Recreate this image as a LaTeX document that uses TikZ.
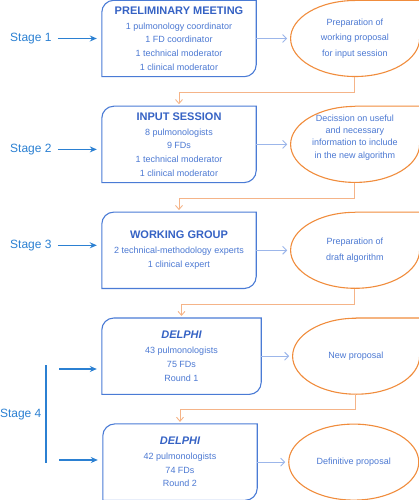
\documentclass[tikz,border=0pt]{standalone}
\usepackage{fontspec}
\setmainfont{Liberation Sans}
\usepackage{xcolor}
\usetikzlibrary{arrows.meta,positioning,shapes.geometric}

\definecolor{boxblue}{HTML}{4A7BD5}
\definecolor{txtblue}{HTML}{4B78D2}
\definecolor{headblue}{HTML}{3562C4}
\definecolor{stageblue}{HTML}{2B80D2}
\definecolor{ideaorange}{HTML}{F08C3C}
\definecolor{linkorange}{HTML}{F5B488}
\definecolor{linkblue}{HTML}{9CB6EA}

\newcommand{\panelhead}{\fontsize{11}{13}\selectfont\bfseries\color{headblue}}

\begin{document}
\begin{tikzpicture}[
        x=1pt, y=-1pt,
        node distance=29.5pt,
        stage/.style={inner sep=0pt, text=stageblue, font=\fontsize{12}{14}\selectfont},
        panel/.style={rectangle, minimum width=154pt, minimum height=76pt, inner sep=0pt, align=center, text=txtblue, font=\fontsize{9}{13.6}\selectfont},
        outcome/.style={rectangle, minimum width=129pt, minimum height=76pt, inner sep=0pt, align=center, text=txtblue, font=\fontsize{9}{15.5}\selectfont},
        panelline/.style={draw=boxblue, line width=1.1pt},
        idealine/.style={draw=ideaorange, line width=1.1pt},
        stagearrow/.style={-{Stealth[length=7pt,width=6pt]}, draw=stageblue, line width=1.5pt, shorten >=5pt},
        stagebar/.style={draw=stageblue, line width=1.5pt},
        link/.style={-{Straight Barb[length=4pt,width=8pt]}, draw=linkblue, line width=0.9pt, shorten >=3pt},
        feed/.style={-{Straight Barb[length=4pt,width=7pt]}, draw=linkorange, line width=0.9pt, shorten >=2pt}
      ]
        \useasboundingbox (0,0) rectangle (419,500);

        % Stage boxes
        \node[panel] (b1) at (179,38.5) {{\panelhead PRELIMINARY MEETING}\\[1.4pt]
          1 pulmonology coordinator\\ 1 FD coordinator\\ 1 technical moderator\\ 1 clinical moderator};
        \node[panel, below=of b1] (b2) {{\panelhead INPUT SESSION}\\[1.4pt]
          8 pulmonologists\\ 9 FDs\\ 1 technical moderator\\ 1 clinical moderator};
        \node[panel, below=of b2] (b3) {{\panelhead WORKING GROUP}\\[1.4pt]
          2 technical-methodology experts\\ 1 clinical expert};
        \node[panel, below=of b3, xshift=2.5pt, minimum width=159pt] (b4) {{\panelhead\itshape DELPHI}\\[1.4pt]
          43 pulmonologists\\ 75 FDs\\ Round 1};
        \node[panel, below=of b4, xshift=-1.5pt] (b5) {{\panelhead\itshape DELPHI}\\[1.4pt]
          42 pulmonologists\\ 74 FDs\\ Round 2};

        % Outcomes
        \node[outcome, right=34pt of b1] (e1) {Preparation of\\ working proposal\\ for input session};
        \node[outcome, right=34pt of b2, font=\fontsize{9}{12.3}\selectfont, text depth=16pt] (e2) {Decission on useful\\ and necessary\\ information to include\\ in the new algorithm};
        \node[outcome, right=34pt of b3] (e3) {Preparation of\\ draft algorithm};
        \node[outcome, right=31pt of b4, minimum width=127pt] (e4) {New proposal};
        \node[outcome, ellipse, right=31pt of b5, minimum width=130pt, idealine] (e5) {Definitive proposal};

        % Outlines
        \foreach \b in {b1,b2,b3,b4,b5}
          \draw[panelline] (\b.north) -- (\b.north east) -- (\b.east) [rounded corners=12pt] -- (\b.south east) -- (\b.south)
            [sharp corners] -- (\b.south west) -- (\b.west) [rounded corners=12pt] -- (\b.north west) -- (\b.north);
        \foreach \e/\r in {e1/64.5,e2/64.5,e3/64.5,e4/63.5}
          \draw[idealine] (\e.north) -- (\e.north east) -- (\e.east) arc[start angle=0, end angle=-270, x radius=\r pt, y radius=38pt];

        % Stage labels
        \node[stage, left=50pt of b1] (s1) {Stage 1};
        \node[stage, left=50pt of b2, yshift=-5pt] (s2) {Stage 2};
        \node[stage, left=50pt of b3, yshift=5pt] (s3) {Stage 3};
        \node[stage] (s4) at (20.7,415) {Stage 4};
        \coordinate (bartop) at (46,365);
        \coordinate (barbot) at (46,463);
        \coordinate (s4a) at (59,369);
        \coordinate (s4b) at (59,460);

        % Arrows
        \draw[stagearrow, shorten <=6pt] (s1) -- (s1 -| b1.west);
        \draw[stagearrow, shorten <=6pt] (s2) -- (s2 -| b2.west);
        \draw[stagearrow, shorten <=6pt] (s3) -- (s3 -| b3.west);
        \draw[stagebar] (bartop) -- (barbot);
        \draw[stagearrow] (s4a) -- (s4a -| b4.west);
        \draw[stagearrow] (s4b) -- (s4b -| b5.west);
        \foreach \i in {1,...,5}
          \draw[link] (b\i.east) -- (e\i.west);
        \draw[feed] (e1.south) |- ([yshift=14pt]b2.north) -- (b2.north);
        \draw[feed] (e2.south) |- ([yshift=14pt]b3.north) -- (b3.north);
        \draw[feed] (e3.south) |- ([yshift=14pt]b4.north) -- (b4.north);
        \draw[feed] (e4.south) |- ([yshift=14pt]b5.north) -- (b5.north);
      \end{tikzpicture}
\end{document}
